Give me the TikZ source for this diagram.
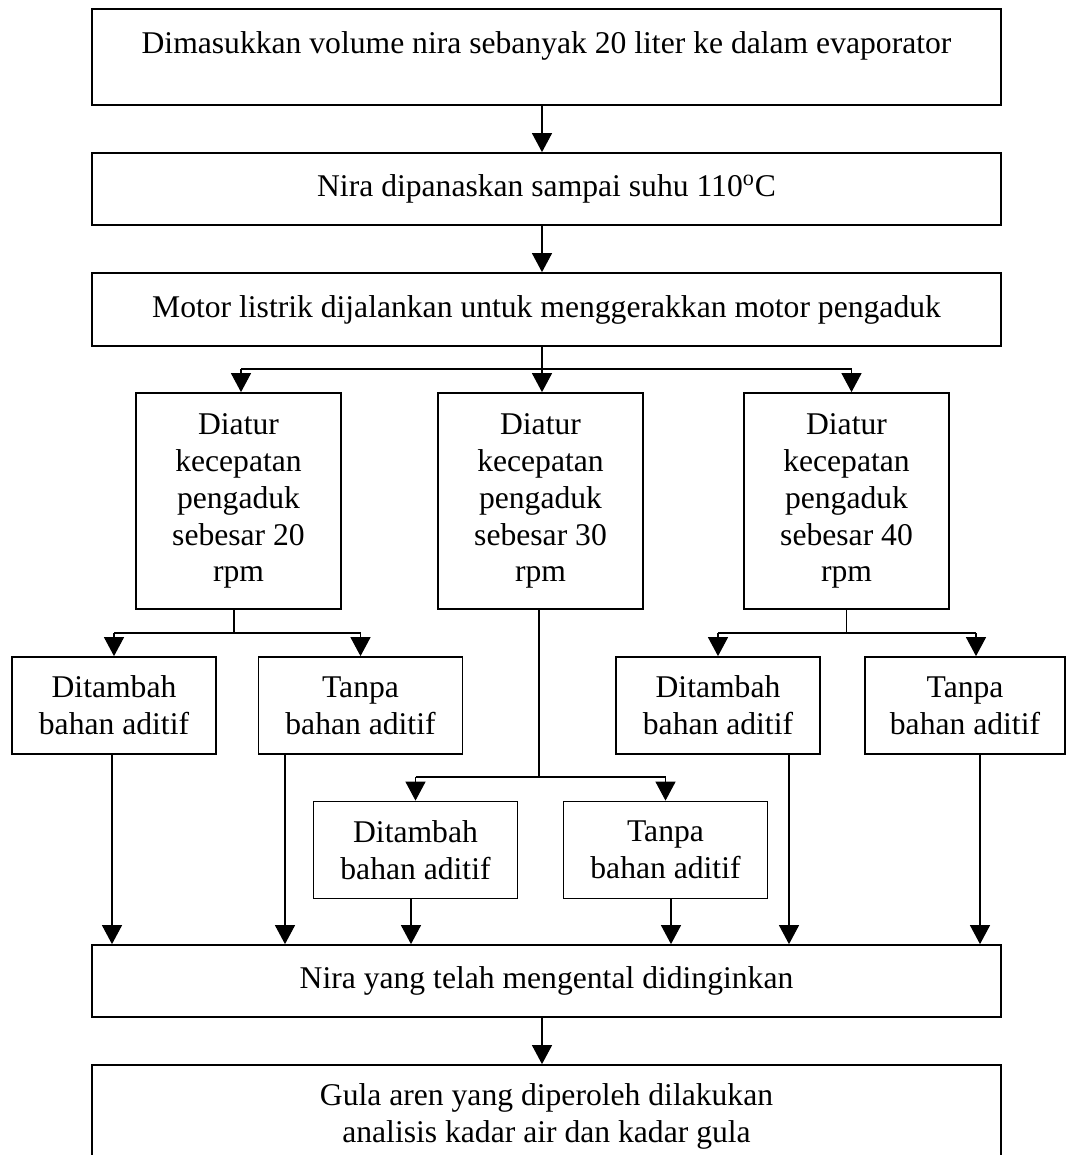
\documentclass[tikz,border=0pt]{standalone}
\usepackage{fontspec}
\setmainfont{Liberation Serif}
\usetikzlibrary{arrows.meta}

\tikzset{
  stepbox/.style={draw, line width=1pt, rectangle, align=center, inner sep=0pt,
    font=\fontsize{18}{21}\selectfont},
  wide/.style={stepbox, minimum width=18.18cm},
  tall/.style={stepbox, minimum width=4.1cm, minimum height=4.32cm},
  addbox/.style={stepbox, minimum width=4.08cm, minimum height=1.94cm},
  ln/.style={line width=0.7pt},
  arr/.style={ln, -{Triangle[width=0.4cm,length=0.38cm]}}
}

\begin{document}
\begin{tikzpicture}[x=0.02cm, y=-0.02cm]
    \useasboundingbox (0,0) rectangle (1066,1155);
    \clip (0,0) rectangle (1066,1155);

    % --- main chain --------------------------------------------------
    \node[wide, minimum height=1.92cm] (load) at (546.5,57)
      {Dimasukkan volume nira sebanyak 20 liter ke dalam evaporator\\[-5pt] \mbox{}};
    \node[wide, minimum height=1.44cm] (heat) at (546.5,189)
      {Nira dipanaskan sampai suhu 110\textsuperscript{o}C};
    \node[wide, minimum height=1.46cm] (motor) at (546.5,309.5)
      {Motor listrik dijalankan untuk menggerakkan motor pengaduk};

    \coordinate (spine) at (542,0);
    \draw[arr] (load.south -| spine) -- (heat.north -| spine);
    \draw[arr] (heat.south -| spine) -- (motor.north -| spine);

    % --- stirring speed ----------------------------------------------
    \node[tall] (rpmA) at (238.5,501) {Diatur\\kecepatan\\pengaduk\\sebesar 20\\rpm};
    \node[tall] (rpmB) at (540.5,501) {Diatur\\kecepatan\\pengaduk\\sebesar 30\\rpm};
    \node[tall] (rpmC) at (846.5,501) {Diatur\\kecepatan\\pengaduk\\sebesar 40\\rpm};

    \coordinate (split) at (0,369);
    \draw[ln] (motor.south -| spine) -- (split -| spine);
    \draw[ln] ([xshift=0.05cm]split -| rpmA.north) -- ([xshift=0.1cm]split -| rpmC.north);
    \draw[arr] ([xshift=0.05cm]split -| rpmA.north) -- ([xshift=0.05cm]rpmA.north);
    \draw[arr] (split -| spine) -- (rpmB.north -| spine);
    \draw[arr] ([xshift=0.1cm]split -| rpmC.north) -- ([xshift=0.1cm]rpmC.north);

    % --- additive or not ---------------------------------------------
    \node[addbox] (addA)  at (114,705.5)   {Ditambah\\bahan aditif};
    \node[addbox] (noneA) at (360.5,705.5) {Tanpa\\bahan aditif};
    \node[addbox] (addB)  at (415.5,850)   {Ditambah\\bahan aditif};
    \node[addbox] (noneB) at (665.5,850)   {Tanpa\\bahan aditif};
    \node[addbox] (addC)  at (718,705.5)   {Ditambah\\bahan aditif};
    \node[addbox, minimum width=4cm] (noneC) at (965,705.5) {Tanpa\\bahan aditif};

    \coordinate (splitA) at (0,633);
    \coordinate (splitB) at (0,777);
    \coordinate (colC) at (976,0);

    \draw[ln] ([xshift=-0.09cm]rpmA.south) coordinate (ra) -- (ra |- splitA);
    \draw[ln] (splitA -| addA.north) -- (splitA -| noneA.north);
    \draw[arr] (splitA -| addA.north) -- (addA.north);
    \draw[arr] (splitA -| noneA.north) -- (noneA.north);

    \draw[ln] ([xshift=-0.03cm]rpmB.south) coordinate (rb) -- (rb |- splitB);
    \draw[ln] (splitB -| addB.north) -- (splitB -| noneB.north);
    \draw[arr] (splitB -| addB.north) -- (addB.north);
    \draw[arr] (splitB -| noneB.north) -- (noneB.north);

    \draw[ln] (rpmC.south) -- (rpmC.south |- splitA);
    \draw[ln] (splitA -| addC.north) -- (splitA -| colC);
    \draw[arr] (splitA -| addC.north) -- (addC.north);
    \draw[arr] (splitA -| colC) -- (noneC.north -| colC);

    % --- cooling and analysis ----------------------------------------
    \node[wide, minimum height=1.44cm] (cool) at (546.5,981)
      {Nira yang telah mengental didinginkan};
    \node[wide, minimum height=2.06cm] (gula) at (546.5,1116.5)
      {Gula aren yang diperoleh dilakukan\\analisis kadar air dan kadar gula};

    \coordinate (x1) at (112,0);
    \coordinate (x2) at (285,0);
    \coordinate (x3) at (411,0);
    \coordinate (x4) at (671,0);
    \coordinate (x5) at (789,0);
    \coordinate (x6) at (980,0);
    \draw[arr] (addA.south -| x1)  -- (cool.north -| x1);
    \draw[arr] (noneA.south -| x2) -- (cool.north -| x2);
    \draw[arr] (addB.south -| x3)  -- (cool.north -| x3);
    \draw[arr] (noneB.south -| x4) -- (cool.north -| x4);
    \draw[arr] (addC.south -| x5)  -- (cool.north -| x5);
    \draw[arr] (noneC.south -| x6) -- (cool.north -| x6);

    \draw[arr] (cool.south -| spine) -- (gula.north -| spine);
\end{tikzpicture}
\end{document}
